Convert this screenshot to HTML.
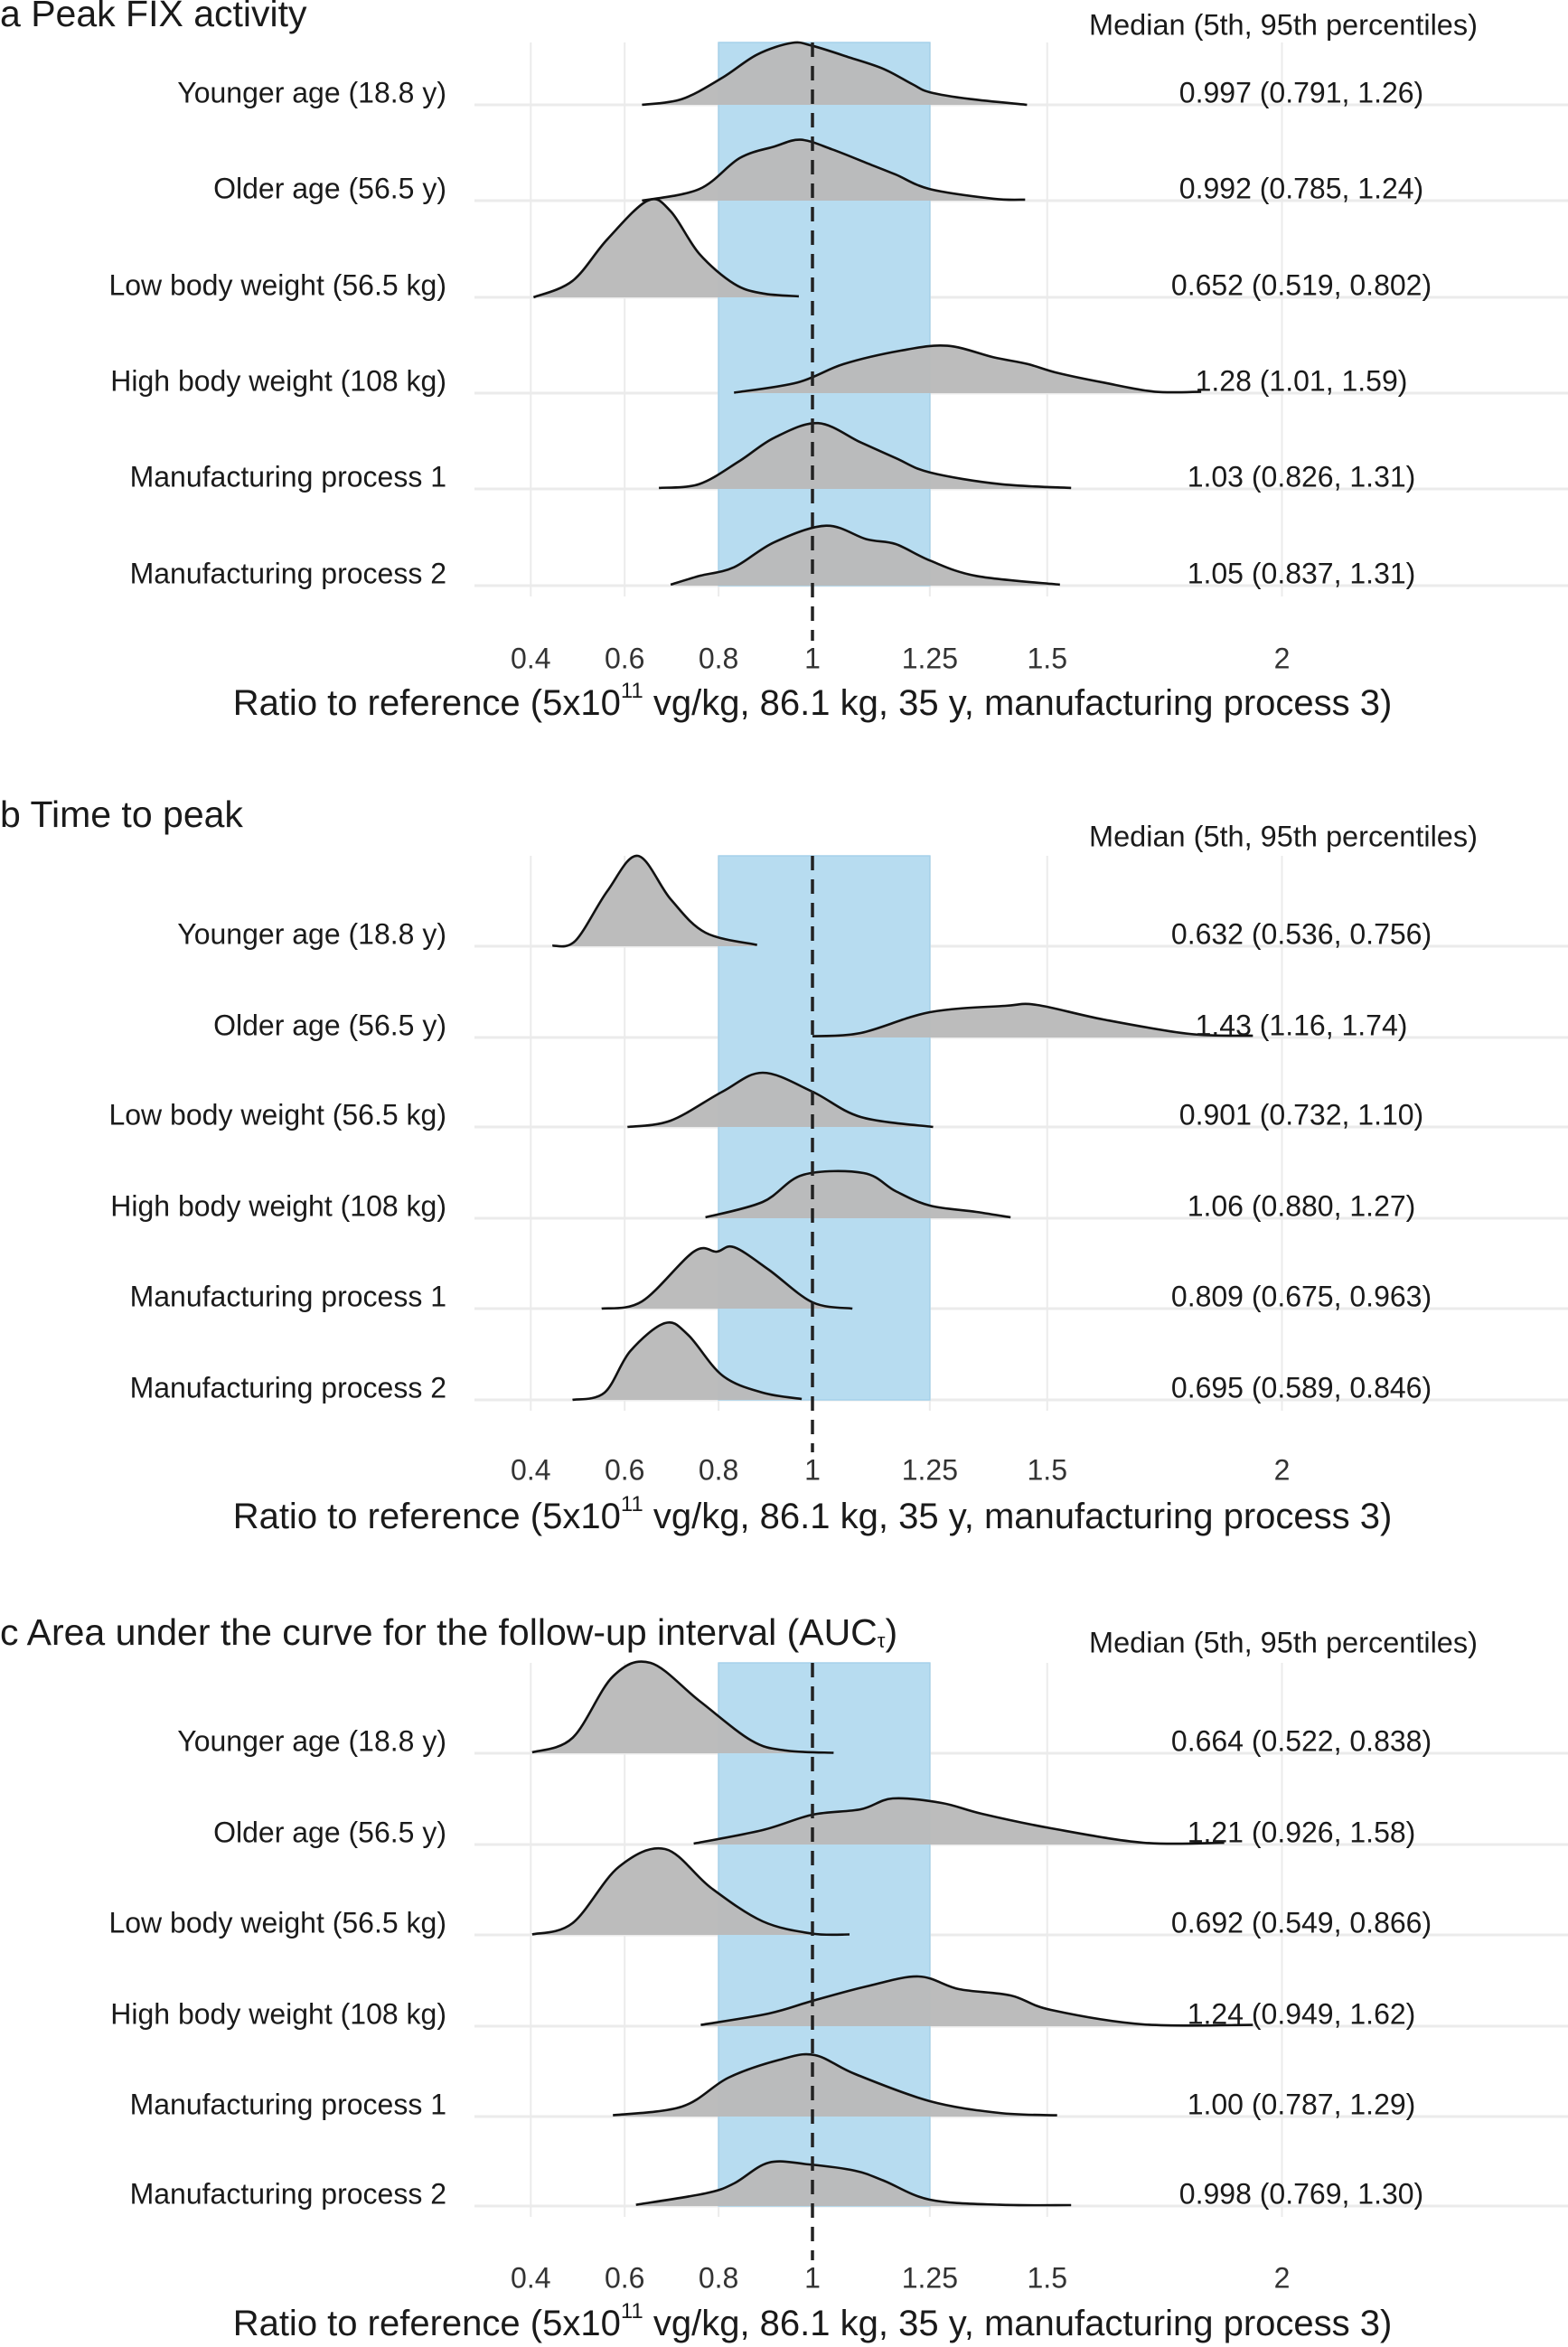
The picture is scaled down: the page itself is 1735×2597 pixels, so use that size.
<!DOCTYPE html>
<html><head><meta charset="utf-8"><style>
html,body{margin:0;padding:0;background:#fff;}
svg{display:block;font-family:"Liberation Sans",Arial,sans-serif;}
</style></head><body>
<svg id="chart" width="1735" height="2597" viewBox="0 0 1735 2597" xmlns="http://www.w3.org/2000/svg"></svg>
<script>
// ---- data ----
const rowLabels = ["Younger age (18.8 y)","Older age (56.5 y)","Low body weight (56.5 kg)","High body weight (108 kg)","Manufacturing process 1","Manufacturing process 2"];
const tickValues = [0.4,0.6,0.8,1,1.25,1.5,2];
const tickLabels = ["0.4","0.6","0.8","1","1.25","1.5","2"];
const panelTitles = ["a  Peak FIX activity","b Time to peak","c Area under the curve for the follow-up interval (AUC"];
const mediansA = ["0.997 (0.791, 1.26)","0.992 (0.785, 1.24)","0.652 (0.519, 0.802)","1.28 (1.01, 1.59)","1.03 (0.826, 1.31)","1.05 (0.837, 1.31)"];
const mediansB = ["0.632 (0.536, 0.756)","1.43 (1.16, 1.74)","0.901 (0.732, 1.10)","1.06 (0.880, 1.27)","0.809 (0.675, 0.963)","0.695 (0.589, 0.846)"];
const mediansC = ["0.664 (0.522, 0.838)","1.21 (0.926, 1.58)","0.692 (0.549, 0.866)","1.24 (0.949, 1.62)","1.00 (0.787, 1.29)","0.998 (0.769, 1.30)"];
// densities: x values (ratio) and relative density heights
const densXA = [
 [.637,.722,.808,.882,.956,1,1.079,1.152,1.214,1.25,1.336,1.457],
 [.637,.759,.845,.919,.975,1.042,1.115,1.177,1.25,1.386,1.453],
 [.406,.489,.563,.649,.698,.759,.833,.894,.971],
 [.833,.968,1.066,1.189,1.287,1.386,1.459,1.521,1.619,1.729,1.828],
 [.673,.759,.845,.919,1.012,1.103,1.177,1.25,1.398,1.551],
 [.698,.759,.833,.919,1.029,1.115,1.177,1.25,1.349,1.527]];
const densYA = [
 [0,.06,.28,.52,.64,.61,.49,.37,.21,.13,.06,0],
 [0,.12,.44,.56,.63,.53,.39,.27,.12,.02,.01],
 [0,.17,.60,1,.89,.45,.14,.04,.01],
 [.005,.11,.30,.44,.49,.37,.30,.21,.11,.015,.015],
 [.01,.05,.29,.53,.68,.48,.32,.17,.05,.01],
 [.01,.10,.19,.45,.62,.48,.43,.26,.10,.01]];
const densXB = [
 [.446,.495,.563,.628,.698,.772,.882],
 [1,1.103,1.25,1.41,1.478,1.619,1.803,1.938],
 [.606,.698,.808,.894,1,1.103,1.257],
 [.772,.894,.98,1.109,1.177,1.25,1.349,1.422],
 [.551,.637,.747,.796,.833,.907,1,1.085],
 [.489,.557,.612,.686,.735,.808,.894,.977]];
const densYB = [
 [.005,.06,.61,1,.52,.15,.014],
 [.014,.05,.28,.35,.36,.20,.04,.02],
 [0,.07,.39,.60,.39,.11,0],
 [.01,.18,.48,.50,.30,.14,.07,.01],
 [0,.08,.63,.63,.68,.43,.07,0],
 [0,.08,.54,.85,.72,.27,.08,.01]];
const densXC = [
 [.403,.489,.575,.655,.759,.870,.944,1.045],
 [.747,.894,1,1.103,1.171,1.275,1.361,1.508,1.705,1.877],
 [.403,.489,.587,.686,.784,.894,1,1.079],
 [.762,.907,1,1.115,1.226,1.312,1.422,1.508,1.705,1.938],
 [.575,.722,.821,.931,1.005,1.091,1.25,1.398,1.521],
 [.624,.772,.833,.907,.993,1.091,1.152,1.25,1.398,1.551]];
const densYC = [
 [.01,.17,.85,1,.58,.14,.03,.005],
 [.01,.16,.33,.39,.51,.46,.34,.18,.02,.02],
 [.005,.13,.75,.95,.52,.15,.014,.005],
 [.014,.14,.28,.44,.55,.41,.34,.18,.02,.014],
 [.014,.11,.43,.63,.68,.47,.17,.04,.014],
 [.014,.14,.25,.48,.46,.39,.28,.07,.014,.01]];
const bandLow = 0.8, bandHigh = 1.25, refValue = 1;

// ---- layout ----
const NS = "http://www.w3.org/2000/svg";
const svg = document.getElementById("chart");
const xScale = v => 899 + (v - 1) * 519.5;
const panels = [
 {title:18, header:30, top:47, rows:[116,222,329,435,541,648], ticks:731, xlab:780, h:107, med:mediansA, dx:densXA, dy:densYA, name:"peak-fix"},
 {title:904, header:928, top:947, rows:[1047,1148,1247,1348,1448,1549], ticks:1629, xlab:1680, h:100, med:mediansB, dx:densXB, dy:densYB, name:"time-to-peak"},
 {title:1809, header:1820, top:1840, rows:[1940,2041,2141,2242,2342,2441], ticks:2523, xlab:2573, h:100, med:mediansC, dx:densXC, dy:densYC, name:"auc"}];

function mk(tag, attrs, parent, text){
  const e = document.createElementNS(NS, tag);
  for (const k in attrs) e.setAttribute(k, attrs[k]);
  if (text !== undefined) e.textContent = text;
  (parent || svg).appendChild(e);
  return e;
}
function smoothPath(pts){
  let d = "M" + pts[0][0].toFixed(1) + "," + pts[0][1].toFixed(1);
  for (let i = 0; i < pts.length - 1; i++){
    const p0 = pts[Math.max(0,i-1)], p1 = pts[i], p2 = pts[i+1], p3 = pts[Math.min(pts.length-1,i+2)];
    const c1x = p1[0] + (p2[0]-p0[0])/6, c1y = p1[1] + (p2[1]-p0[1])/6;
    const c2x = p2[0] - (p3[0]-p1[0])/6, c2y = p2[1] - (p3[1]-p1[1])/6;
    d += " C" + c1x.toFixed(1)+","+c1y.toFixed(1)+" "+c2x.toFixed(1)+","+c2y.toFixed(1)+" "+p2[0].toFixed(1)+","+p2[1].toFixed(1);
  }
  return d;
}

panels.forEach((P, pi) => {
  const g = mk("g", {});
  
  
  const bottom = P.rows[5];
  tickValues.forEach((v, i) => {
    const l = mk("line", {x1:xScale(v), x2:xScale(v), y1:P.top, y2:bottom+12, stroke:"#ebebeb", "stroke-width":2}, g);
    
    
  });
  P.rows.forEach(y => {
    const l = mk("line", {x1:525, x2:1735, y1:y, y2:y, stroke:"#ebebeb", "stroke-width":3}, g);
    
    
  });
  const band = mk("rect", {x:xScale(bandLow), y:P.top, width:xScale(bandHigh)-xScale(bandLow), height:bottom-P.top, fill:"#b7dcf0", stroke:"#a6d1ea", "stroke-width":1.5}, g);
  
  
  P.rows.forEach((y, r) => {
    const xs = P.dx[r], ys = P.dy[r];
    const pts = xs.map((v, i) => [xScale(v), y - ys[i]*P.h]);
    const line = smoothPath(pts);
    const area = line + " L" + pts[pts.length-1][0].toFixed(1) + "," + y + " L" + pts[0][0].toFixed(1) + "," + y + " Z";
    const a = mk("path", {d:area, fill:"#bababa", "fill-opacity":0.97}, g);
    
    
    const ln = mk("path", {d:line, fill:"none", stroke:"#111", "stroke-width":2.6}, g);
    
    
    const lab = mk("text", {x:494, y:y-11, "text-anchor":"end", "dominant-baseline":"middle", "font-size":32, fill:"#1a1a1a"}, g, rowLabels[r]);
    
    
    const md = mk("text", {x:1440, y:y-11, "text-anchor":"middle", "dominant-baseline":"middle", "font-size":32, fill:"#1a1a1a"}, g, P.med[r]);
    
    
  });
  const ref = mk("line", {x1:xScale(refValue), x2:xScale(refValue), y1:P.top, y2:P.ticks-22, stroke:"#222", "stroke-width":3.5, "stroke-dasharray":"16,10"}, g);
  
  
  tickValues.forEach((v, i) => {
    const t = mk("text", {x:xScale(v), y:P.ticks, "text-anchor":"middle", "dominant-baseline":"middle", "font-size":32, fill:"#333"}, g, tickLabels[i]);
    
    
  });
  const xt = mk("text", {x:899, y:P.xlab, "text-anchor":"middle", "dominant-baseline":"middle", "font-size":40, fill:"#1a1a1a"}, g);
  
  
  mk("tspan", {}, xt, "Ratio to reference (5x10");
  mk("tspan", {dy:-14, "font-size":24}, xt, "11");
  mk("tspan", {dy:14}, xt, " vg/kg, 86.1 kg, 35 y, manufacturing process 3)");
  const hd = mk("text", {x:1205, y:P.header, "dominant-baseline":"middle", "font-size":32.5, fill:"#1a1a1a"}, g, "Median (5th, 95th percentiles)");
  
  
  const tt = mk("text", {x:0, y:P.title, "dominant-baseline":"middle", "font-size":41, fill:"#1a1a1a"}, g, panelTitles[pi]);
  
  
  if (pi === 2){
    mk("tspan", {dy:8, "font-size":22}, tt, "τ");
    mk("tspan", {dy:-8}, tt, ")");
  }
});
</script>
</body></html>
